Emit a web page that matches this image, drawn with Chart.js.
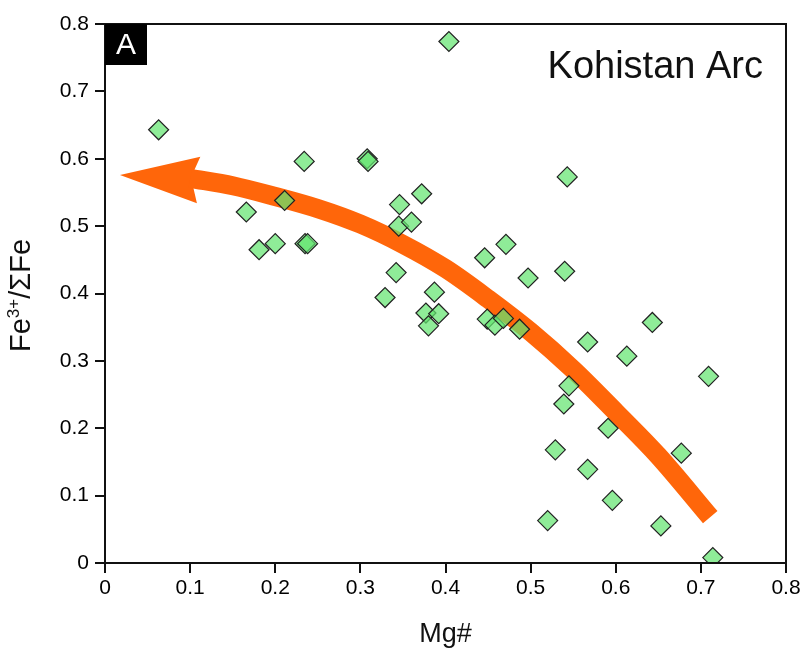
<!DOCTYPE html>
<html>
<head>
<meta charset="utf-8">
<script src="https://cdn.jsdelivr.net/npm/chart.js@4.4.1/dist/chart.umd.min.js"></script>
<style>
  body { margin: 0; background: #fff; }
  #wrap { width: 806px; height: 651px; }
</style>
</head>
<body>
<div id="wrap"><canvas id="chart" width="806" height="651"></canvas></div>
<script>
// sample values
const mgNumber = [0.063, 0.166, 0.181, 0.200, 0.211, 0.234, 0.235, 0.238, 0.308, 0.309,
  0.329, 0.342, 0.345, 0.346, 0.360, 0.372, 0.377, 0.380, 0.387, 0.392,
  0.404, 0.446, 0.449, 0.458, 0.468, 0.471, 0.487, 0.497, 0.520, 0.529,
  0.539, 0.540, 0.543, 0.545, 0.567, 0.567, 0.591, 0.596, 0.613, 0.643,
  0.653, 0.677, 0.709, 0.714];
const feRatio = [0.643, 0.521, 0.465, 0.474, 0.538, 0.596, 0.474, 0.474, 0.600, 0.596,
  0.394, 0.431, 0.500, 0.532, 0.506, 0.548, 0.371, 0.352, 0.402, 0.370,
  0.774, 0.453, 0.362, 0.353, 0.363, 0.473, 0.347, 0.423, 0.063, 0.168,
  0.236, 0.433, 0.573, 0.263, 0.139, 0.328, 0.200, 0.093, 0.307, 0.357,
  0.055, 0.163, 0.277, 0.008];

// trend arrow (shaft and head), in data units
const arrowX = [0.100, 0.150, 0.200, 0.250, 0.300, 0.350, 0.400, 0.450, 0.500, 0.550, 0.600, 0.650, 0.711];
const arrowY = [0.571, 0.560, 0.544, 0.526, 0.503, 0.473, 0.437, 0.392, 0.343, 0.287, 0.224, 0.159, 0.068];
const headX = [0.0176, 0.112, 0.101, 0.108];
const headY = [0.576, 0.603, 0.572, 0.534];

const xTicks = [0, 0.1, 0.2, 0.3, 0.4, 0.5, 0.6, 0.7, 0.8];
const yTicks = [0, 0.1, 0.2, 0.3, 0.4, 0.5, 0.6, 0.7, 0.8];

const ORANGE = "rgb(255, 102, 10)";
const FONT = "'Liberation Sans', Arial, sans-serif";

const points = mgNumber.map((x, i) => ({ x: x, y: feRatio[i] }));
const shaft = arrowX.map((x, i) => ({ x: x, y: arrowY[i] }));

const extras = {
  id: "extras",
  beforeDatasetsDraw(chart) {
    const { ctx, scales } = chart;
    ctx.save();
    ctx.beginPath();
    headX.forEach((x, i) => {
      const px = scales.x.getPixelForValue(x);
      const py = scales.y.getPixelForValue(headY[i]);
      if (i === 0) ctx.moveTo(px, py);
      else ctx.lineTo(px, py);
    });
    ctx.closePath();
    ctx.fillStyle = ORANGE;
    ctx.fill();
    ctx.restore();
  },
  afterDatasetsDraw(chart) {
    const { ctx, chartArea: a } = chart;
    ctx.save();
    // frame
    ctx.strokeStyle = "#111";
    ctx.lineWidth = 2;
    ctx.strokeRect(a.left, a.top, a.right - a.left, a.bottom - a.top);
    // panel letter
    ctx.fillStyle = "#000";
    ctx.fillRect(a.left, a.top, 42, 41);
    ctx.fillStyle = "#fff";
    ctx.font = "30px " + FONT;
    ctx.textAlign = "center";
    ctx.textBaseline = "middle";
    ctx.fillText("A", a.left + 21, a.top + 22);
    // label
    ctx.fillStyle = "#111";
    ctx.font = "38px " + FONT;
    ctx.textAlign = "right";
    ctx.textBaseline = "alphabetic";
    ctx.fillText("Kohistan Arc", a.right - 23, a.top + 54);

    // y axis title with a real superscript
    const parts = [["Fe", 29, 0], ["3+", 17, -11], ["/\u03A3Fe", 29, 0]];
    let total = 0;
    parts.forEach((p) => { ctx.font = p[1] + "px " + FONT; total += ctx.measureText(p[0]).width; });
    ctx.translate(30, (a.top + a.bottom) / 2 + 2);
    ctx.rotate(-Math.PI / 2);
    ctx.fillStyle = "#111";
    ctx.textAlign = "left";
    ctx.textBaseline = "alphabetic";
    let cx = -total / 2;
    parts.forEach((p) => {
      ctx.font = p[1] + "px " + FONT;
      ctx.fillText(p[0], cx, p[2]);
      cx += ctx.measureText(p[0]).width;
    });
    ctx.restore();
  },
};

new Chart(document.getElementById("chart"), {
  type: "scatter",
  data: {
    datasets: [
      {
        label: "samples",
        data: points,
        pointStyle: "rectRot",
        pointRadius: 10,
        pointHoverRadius: 10,
        backgroundColor: "rgba(100, 228, 112, 0.72)",
        borderColor: "#222",
        borderWidth: 1.2,
        order: 1,
      },
      {
        label: "trend",
        data: shaft,
        showLine: true,
        cubicInterpolationMode: "monotone",
        borderColor: ORANGE,
        borderWidth: 19,
        borderCapStyle: "butt",
        pointRadius: 0,
        pointHoverRadius: 0,
        order: 2,
      },
    ],
  },
  options: {
    responsive: false,
    animation: false,
    events: [],
    layout: { padding: { left: 0, right: 20, top: 24, bottom: 0 } },
    plugins: { legend: { display: false }, tooltip: { enabled: false } },
    scales: {
      x: {
        type: "linear",
        min: 0,
        max: 0.8,
        afterBuildTicks: (s) => { s.ticks = xTicks.map((v) => ({ value: v })); },
        afterFit: (s) => { s.height = 88; },
        border: { display: false },
        grid: { drawOnChartArea: false, tickLength: 10, color: "#111", lineWidth: 2 },
        ticks: {
          color: "#000",
          font: { family: FONT, size: 21 },
          padding: 3,
          callback: (v) => String(Math.round(v * 10) / 10),
        },
        title: {
          display: true,
          text: "Mg#",
          color: "#111",
          font: { family: FONT, size: 27 },
          padding: { top: 0, bottom: 0 },
        },
      },
      y: {
        type: "linear",
        min: 0,
        max: 0.8,
        afterBuildTicks: (s) => { s.ticks = yTicks.map((v) => ({ value: v })); },
        afterFit: (s) => { s.width = 105; },
        border: { display: false },
        grid: { drawOnChartArea: false, tickLength: 10, color: "#111", lineWidth: 2 },
        ticks: {
          color: "#000",
          font: { family: FONT, size: 21 },
          padding: 6,
          callback: (v) => String(Math.round(v * 10) / 10),
        },
        title: { display: false },
      },
    },
  },
  plugins: [extras],
});
</script>
</body>
</html>
